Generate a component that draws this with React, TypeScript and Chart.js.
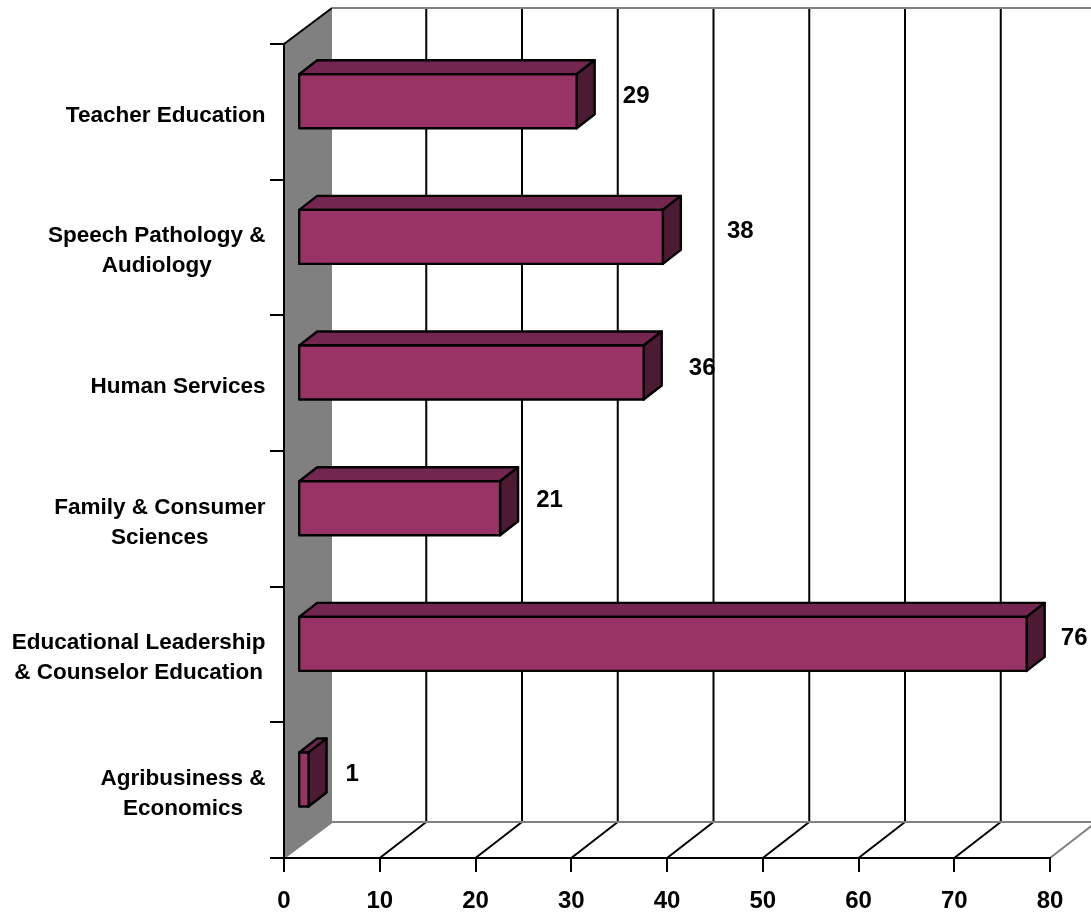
import React, { useEffect, useRef } from "react";
import { Chart, registerables } from "chart.js";

Chart.register(...registerables);

const categories: string[][] = [
  ["Teacher Education"],
  ["Speech Pathology &", "Audiology"],
  ["Human Services"],
  ["Family & Consumer", "Sciences"],
  ["Educational Leadership", "& Counselor Education"],
  ["Agribusiness &", "Economics"],
];
const enrollment: number[] = [29, 38, 36, 21, 76, 1];
const axisTicks = { min: 0, max: 80, step: 10 };

// Hand-placed value label offsets, relative to the bar end.
const labelShiftX: number[] = [74.5, 92.5, 73.5, 64.5, 62.5, 58.5];
const labelShiftY: number[] = [-15, -16.5, -14.5, -18.5, -16, -15.5];

const FAMILY = "'Liberation Sans', Arial, sans-serif";
const TEXT_FONT = `bold 22.5px ${FAMILY}`;
const DIGIT_SIZE = 24;
const DIGIT_FONT = `bold ${DIGIT_SIZE}px ${FAMILY}`;
const FRONT = "#993366";
const TOP = "#732650";
const SIDE = "#4d1a33";
const WALL = "#808080";
const BLACK = "#000000";
const WALL_DX = 48;
const GRID_DX = 46.5;
const WALL_DY = 36;
const BAR_DX = 14.2;
const BAR_DY = 10.6;
const BAR_END_PAD = 0.8;
const BAR_LINE = 2.4;
const DEPTH_X = 18;
const DEPTH_Y = 14;

const poly = (ctx: CanvasRenderingContext2D, pts: number[][], fill: string | null, stroke: string | null, width = 2) => {
  ctx.beginPath();
  pts.forEach(([x, y], i) => (i ? ctx.lineTo(x, y) : ctx.moveTo(x, y)));
  if (fill) {
    ctx.closePath();
    ctx.fillStyle = fill;
    ctx.fill();
  }
  if (stroke) {
    ctx.strokeStyle = stroke;
    ctx.lineWidth = width;
    ctx.stroke();
  }
};

const box3d = {
  id: "box3d",
  beforeDraw(chart: any) {
    const { ctx, chartArea: a, scales } = chart;
    const xs = scales.x;
    const W = chart.width;
    ctx.save();
    // side wall
    poly(ctx, [[a.left, a.top], [a.left + WALL_DX, a.top - WALL_DY], [a.left + WALL_DX, a.bottom - WALL_DY], [a.left, a.bottom]], WALL, null);
    poly(ctx, [[a.left, a.top], [a.left + WALL_DX, a.top - WALL_DY]], null, BLACK);
    poly(ctx, [[a.left, a.bottom], [a.left + WALL_DX, a.bottom - WALL_DY]], null, WALL);
    // back wall grid and floor lines
    xs.ticks.forEach((t: any, i: number) => {
      const x = xs.getPixelForValue(t.value);
      if (i === 0) return;
      if (t.value < axisTicks.max) {
        poly(ctx, [[x + GRID_DX, a.top - WALL_DY], [x + GRID_DX, a.bottom - WALL_DY]], null, BLACK);
        poly(ctx, [[x, a.bottom], [x + GRID_DX, a.bottom - WALL_DY]], null, BLACK);
      } else {
        poly(ctx, [[x, a.bottom], [x + GRID_DX, a.bottom - WALL_DY]], null, WALL);
      }
    });
    poly(ctx, [[a.left + WALL_DX, a.top - WALL_DY], [W, a.top - WALL_DY]], null, WALL);
    poly(ctx, [[a.left + WALL_DX, a.bottom - WALL_DY], [W, a.bottom - WALL_DY]], null, WALL);
    ctx.restore();
  },
  beforeDatasetDraw(chart: any) {
    chart.ctx.save();
    chart.ctx.translate(BAR_DX, -BAR_DY);
  },
  afterDatasetDraw(chart: any, args: any) {
    const { ctx } = chart;
    const meta = chart.getDatasetMeta(args.index);
    ctx.lineJoin = "round";
    meta.data.forEach((el: any) => {
      const l = el.base;
      const r = el.x + BAR_END_PAD;
      const t = el.y - el.height / 2;
      const b = el.y + el.height / 2;
      ctx.strokeStyle = BLACK;
      ctx.lineWidth = BAR_LINE;
      poly(ctx, [[l, t], [l + DEPTH_X, t - DEPTH_Y], [r + DEPTH_X, t - DEPTH_Y], [r, t]], TOP, null);
      ctx.stroke();
      poly(ctx, [[r, t], [r + DEPTH_X, t - DEPTH_Y], [r + DEPTH_X, b - DEPTH_Y], [r, b]], SIDE, null);
      ctx.stroke();
      poly(ctx, [[l, t], [r, t], [r, b], [l, b]], FRONT, null);
      ctx.stroke();
    });
    ctx.restore();
  },
  afterDraw(chart: any) {
    const { ctx, scales } = chart;
    const meta = chart.getDatasetMeta(0);
    ctx.save();
    ctx.fillStyle = BLACK;
    ctx.textAlign = "center";
    ctx.textBaseline = "middle";
    // value labels
    ctx.font = DIGIT_FONT;
    meta.data.forEach((el: any, i: number) => {
      ctx.fillText(String(enrollment[i]), el.x + labelShiftX[i], el.y + labelShiftY[i]);
    });
    // category labels: a block set flush right, its lines centred in it
    ctx.font = TEXT_FONT;
    const right = scales.y.left - 4.5;
    categories.forEach((lines, i) => {
      const w = Math.max(...lines.map((s) => ctx.measureText(s).width));
      const cy = scales.y.getPixelForValue(i) + 3.5;
      lines.forEach((s, j) => {
        ctx.fillText(s, right - w / 2, cy + (j - (lines.length - 1) / 2) * 30);
      });
    });
    ctx.restore();
  },
};

export default function App() {
  const ref = useRef<HTMLCanvasElement>(null);
  useEffect(() => {
    document.body.style.margin = "0";
    const chart = new Chart(ref.current!, {
      type: "bar",
      data: {
        labels: categories as any,
        datasets: [
          {
            data: enrollment,
            backgroundColor: FRONT,
            borderWidth: 0,
            barPercentage: 0.398,
            categoryPercentage: 1,
            clip: false,
          } as any,
        ],
      },
      options: {
        indexAxis: "y",
        responsive: false,
        animation: false,
        layout: { padding: { left: 270, top: 44, right: 41, bottom: 0 } },
        plugins: { legend: { display: false }, tooltip: { enabled: false }, title: { display: false } },
        scales: {
          x: {
            min: axisTicks.min,
            max: axisTicks.max,
            afterFit: (s: any) => {
              s.height = 56;
            },
            ticks: {
              stepSize: axisTicks.step,
              color: BLACK,
              font: { family: FAMILY, size: DIGIT_SIZE, weight: "bold" },
              padding: 15,
              maxRotation: 0,
              autoSkip: false,
            },
            grid: { drawOnChartArea: false, drawTicks: true, tickLength: 14, color: BLACK, lineWidth: 2 },
            border: { display: true, color: BLACK, width: 2 },
          },
          y: {
            type: "category",
            offset: true,
            afterFit: (s: any) => {
              s.width = 14;
            },
            ticks: { display: false },
            grid: { offset: true, drawOnChartArea: false, drawTicks: true, tickLength: 14, color: BLACK, lineWidth: 2 },
            border: { display: true, color: BLACK, width: 2 },
          },
        },
      } as any,
      plugins: [box3d],
    });
    return () => chart.destroy();
  }, []);
  return <canvas ref={ref} width={1091} height={914} style={{ display: "block" }} />;
}
